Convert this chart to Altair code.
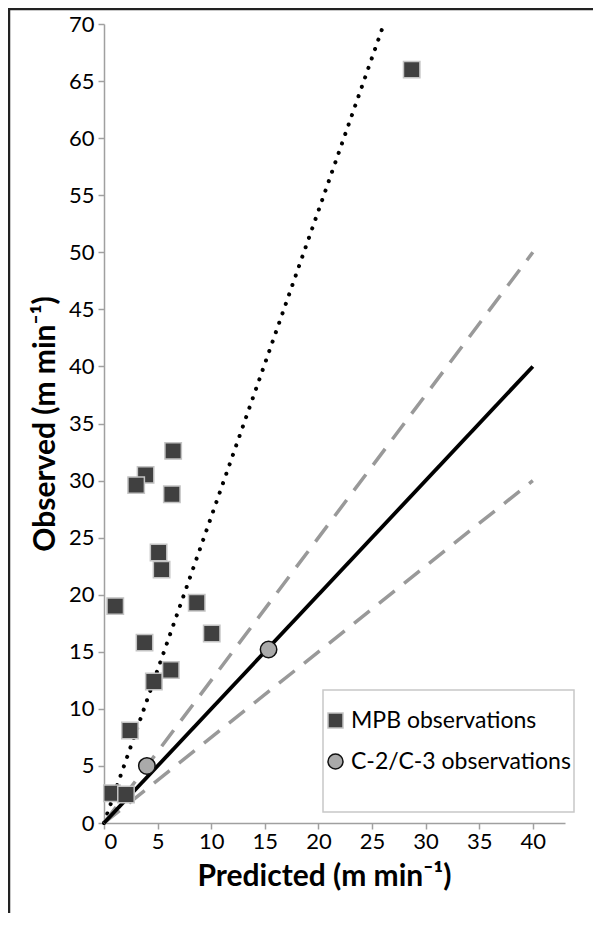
import altair as alt
import pandas as pd

# ---- data ----
mpb_pred = [28.7, 6.45, 3.88, 3.0, 6.33, 5.09, 5.37, 1.05, 8.65, 10.05, 3.78, 6.23, 4.65, 2.42, 0.74, 2.05]
mpb_obs = [66.0, 32.6, 30.5, 29.6, 28.8, 23.7, 22.2, 19.0, 19.3, 16.6, 15.8, 13.4, 12.4, 8.1, 2.6, 2.5]
c23_pred = [4.0, 15.35]
c23_obs = [5.0, 15.2]

series_names = ["MPB observations", "C-2/C-3 observations"]

# reference lines (x end-points, y end-points)
line_x = [0, 40]
one_to_one_y = [0, 40]
upper_y = [0, 50]
lower_y = [0, 30]
dotted_x = [0, 26.1]
dotted_y = [0, 70]

x_ticks = [0, 5, 10, 15, 20, 25, 30, 35, 40]
y_ticks = [0, 5, 10, 15, 20, 25, 30, 35, 40, 45, 50, 55, 60, 65, 70]

W, H = 461, 799
PAD_L, PAD_T, PAD_R, PAD_B = 96, 16, 28, 90
FONT = "Lato"

pts = pd.DataFrame({
    "pred": mpb_pred + c23_pred,
    "obs": mpb_obs + c23_obs,
    "series": [series_names[0]] * len(mpb_pred) + [series_names[1]] * len(c23_pred),
})

xs = alt.Scale(domain=[0, 43], nice=False, zero=True)
ys = alt.Scale(domain=[0, 70], nice=False)

x_axis = alt.Axis(values=x_ticks, title="Predicted (m min⁻¹)", titleX=220,
                  titlePadding=9, labelPadding=2)
y_axis = alt.Axis(values=y_ticks, title="Observed (m min⁻¹)", titlePadding=8)


def line_layer(xv, yv, **kw):
    df = pd.DataFrame({"x": xv, "y": yv})
    return alt.Chart(df).mark_line(**kw).encode(
        x=alt.X("x:Q", scale=xs, axis=x_axis),
        y=alt.Y("y:Q", scale=ys, axis=y_axis),
    )


dotted = line_layer(dotted_x, dotted_y, color="black", strokeWidth=4,
                    strokeDash=[0.1, 9.9], strokeCap="round")
upper = line_layer(line_x, upper_y, color="#999999", strokeWidth=3.5, strokeDash=[20, 12])
lower = line_layer(line_x, lower_y, color="#999999", strokeWidth=3.5, strokeDash=[20, 12])
solid = line_layer(line_x, one_to_one_y, color="black", strokeWidth=3.8)

legend = alt.Legend(title=None, orient="none", legendX=220, legendY=685,
                    labelFont=FONT, labelFontSize=23, labelColor="black", labelLimit=0,
                    symbolSize=225, symbolStrokeWidth=1.5, labelOffset=4,
                    rowPadding=17, padding=0)

points = alt.Chart(pts).mark_point(filled=True, size=270, opacity=1,
                                   fillOpacity=1, strokeWidth=1.5).encode(
    x=alt.X("pred:Q", scale=xs, axis=x_axis),
    y=alt.Y("obs:Q", scale=ys, axis=y_axis),
    shape=alt.Shape("series:N", scale=alt.Scale(domain=series_names, range=["square", "circle"]), legend=legend),
    fill=alt.Fill("series:N", scale=alt.Scale(domain=series_names, range=["#404040", "#aaaaaa"]), legend=legend),
    stroke=alt.Stroke("series:N", scale=alt.Scale(domain=series_names, range=["#c4c4c4", "#111111"]), legend=legend),
)

one = pd.DataFrame({"k": [0]})
legend_box = alt.Chart(one).mark_rect(fill="white", stroke="#c8c8c8", strokeWidth=1.5).encode(
    x=alt.value(219), x2=alt.value(470), y=alt.value(666), y2=alt.value(788)
)
frame_left = alt.Chart(one).mark_rule(color="#222222", strokeWidth=2.5).encode(
    x=alt.value(-95), y=alt.value(-15), y2=alt.value(H + PAD_B)
)
frame_top = alt.Chart(one).mark_rule(color="#222222", strokeWidth=2.5).encode(
    x=alt.value(-96), x2=alt.value(W + PAD_R), y=alt.value(-15)
)

chart = alt.layer(
    frame_left, frame_top, legend_box, dotted, upper, lower, solid, points
).properties(
    width=W, height=H,
    autosize=alt.AutoSizeParams(type="none"),
    padding={"left": PAD_L, "top": PAD_T, "right": PAD_R, "bottom": PAD_B},
).configure_view(
    stroke=None
).configure_axis(
    grid=False,
    domainColor="#a0a0a0", domainWidth=1.5,
    tickColor="#a0a0a0", tickWidth=1.5, tickSize=6,
    labelFont=FONT, labelFontSize=22, labelColor="black", labelPadding=4,
    titleFont=FONT, titleFontSize=30, titleFontWeight="bold", titleColor="black",
).configure_axisX(
    labelAngle=0
)

chart.save("out.html", embed_options={"renderer": "svg", "actions": False})
